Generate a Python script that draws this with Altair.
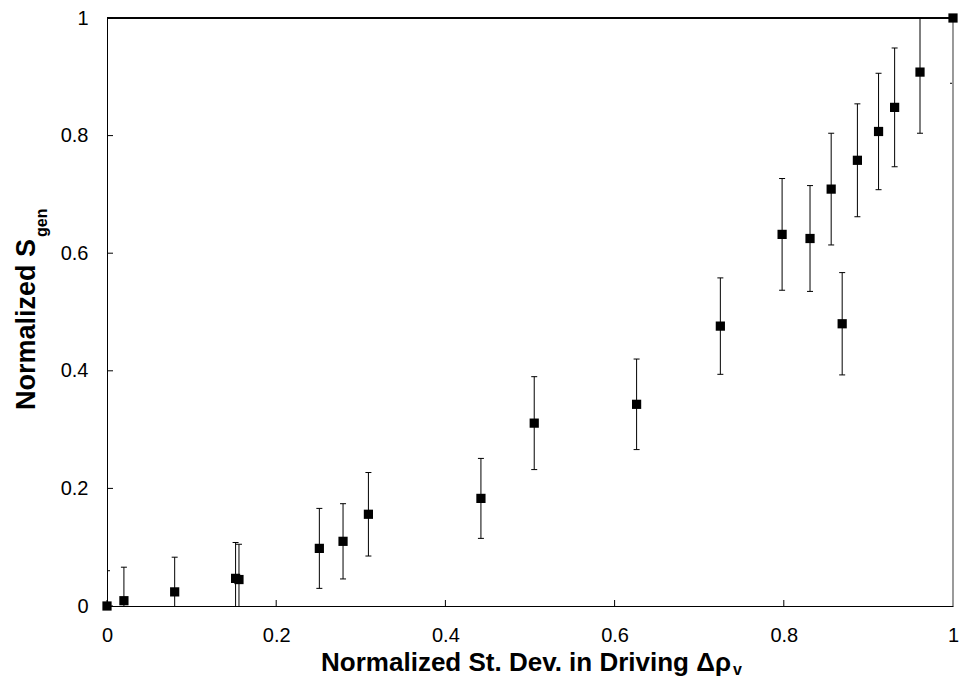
import altair as alt
import pandas as pd

# Data
x_vals = [0.0, 0.02, 0.08, 0.152, 0.156, 0.251, 0.279, 0.309, 0.442, 0.505, 0.626,
          0.725, 0.798, 0.831, 0.856, 0.869, 0.887, 0.912, 0.931, 0.961, 1.0]
y_vals = [0.0, 0.009, 0.024, 0.047, 0.045, 0.098, 0.110, 0.156, 0.183, 0.311, 0.343,
          0.476, 0.632, 0.625, 0.709, 0.480, 0.758, 0.807, 0.848, 0.908, 1.0]
err_vals = [0.06, 0.057, 0.059, 0.061, 0.06, 0.068, 0.064, 0.071, 0.068, 0.079, 0.077,
            0.082, 0.095, 0.090, 0.095, 0.087, 0.096, 0.099, 0.101, 0.104, 0.111]
tick_vals = [0, 0.2, 0.4, 0.6, 0.8, 1]

x_title = "Normalized St. Dev. in Driving \u0394\u03c1"
x_sub = "v"
y_title = "Normalized S"
y_sub = "gen"

W, H = 846, 588
FONT = "Liberation Sans"

df = pd.DataFrame({"x": x_vals, "y": y_vals, "err": err_vals})
df["lo"] = df["y"] - df["err"]
df["hi"] = df["y"] + df["err"]
ticks = pd.DataFrame({"t": tick_vals})

xs = alt.Scale(domain=[0, 1], nice=False, zero=False)
ys = alt.Scale(domain=[0, 1], nice=False, zero=False)

xaxis = alt.Axis(values=tick_vals, format="~g", ticks=False, grid=False,
                 labelFont=FONT, labelFontSize=20, labelColor="black",
                 labelPadding=19, domainColor="black", domainWidth=1, title=None,
                 labelFlush=False)
yaxis = alt.Axis(values=tick_vals, format="~g", ticks=False, grid=False,
                 labelFont=FONT, labelFontSize=20, labelColor="black",
                 labelPadding=19, domainColor="black", domainWidth=1, title=None,
                 labelFlush=False)

base = alt.Chart(df)

bars = base.mark_rule(color="black", strokeWidth=1, clip=True).encode(
    x=alt.X("x:Q", scale=xs, axis=xaxis),
    y=alt.Y("lo:Q", scale=ys, axis=yaxis),
    y2="hi:Q",
)
cap_hi = base.mark_rule(color="black", strokeWidth=1, clip=True, xOffset=-3, x2Offset=3).encode(
    x=alt.X("x:Q", scale=xs), x2="x:Q", y=alt.Y("hi:Q", scale=ys))
cap_lo = base.mark_rule(color="black", strokeWidth=1, clip=True, xOffset=-3, x2Offset=3).encode(
    x=alt.X("x:Q", scale=xs), x2="x:Q", y=alt.Y("lo:Q", scale=ys))

pts = base.mark_square(color="black", opacity=1, size=85).encode(
    x=alt.X("x:Q", scale=xs), y=alt.Y("y:Q", scale=ys))

xticks = alt.Chart(ticks).mark_rule(color="black", strokeWidth=1).encode(
    x=alt.X("t:Q", scale=xs), y=alt.value(H), y2=alt.value(H - 6))
yticks = alt.Chart(ticks).mark_rule(color="black", strokeWidth=1).encode(
    y=alt.Y("t:Q", scale=ys), x=alt.value(0), x2=alt.value(6))

top_border = alt.Chart(ticks).mark_rule(color="black", strokeWidth=1).encode(
    x=alt.value(0), x2=alt.value(W), y=alt.value(0))
right_border = alt.Chart(ticks).mark_rule(color="#999999", strokeWidth=1).encode(
    x=alt.value(W), y=alt.value(0), y2=alt.value(H))

one = pd.DataFrame({"a": [0]})
xt_main = alt.Chart(one).mark_text(text=x_title, font=FONT, fontSize=26, fontWeight="bold",
                                   align="right", baseline="alphabetic", color="black").encode(
    x=alt.value(624), y=alt.value(653))
xt_sub = alt.Chart(one).mark_text(text=x_sub, font=FONT, fontSize=16, fontWeight="bold",
                                  align="left", baseline="alphabetic", color="black").encode(
    x=alt.value(626), y=alt.value(657))
yt_main = alt.Chart(one).mark_text(text=y_title, font=FONT, fontSize=27, fontWeight="bold",
                                   align="right", baseline="alphabetic", angle=270, color="black").encode(
    x=alt.value(-72), y=alt.value(221))
yt_sub = alt.Chart(one).mark_text(text=y_sub, font=FONT, fontSize=16, fontWeight="bold",
                                  align="left", baseline="alphabetic", angle=270, color="black").encode(
    x=alt.value(-60), y=alt.value(219))

chart = alt.layer(
    bars, cap_hi, cap_lo, xticks, yticks, top_border, right_border, pts,
    xt_main, xt_sub, yt_main, yt_sub,
).properties(
    width=W, height=H,
    autosize=alt.AutoSizeParams(type="none"),
    padding={"left": 99, "top": 10, "right": 6, "bottom": 73},
).configure_view(stroke=None).configure(background="white")

chart.save("out.html", embed_options={"renderer": "svg", "actions": False})
